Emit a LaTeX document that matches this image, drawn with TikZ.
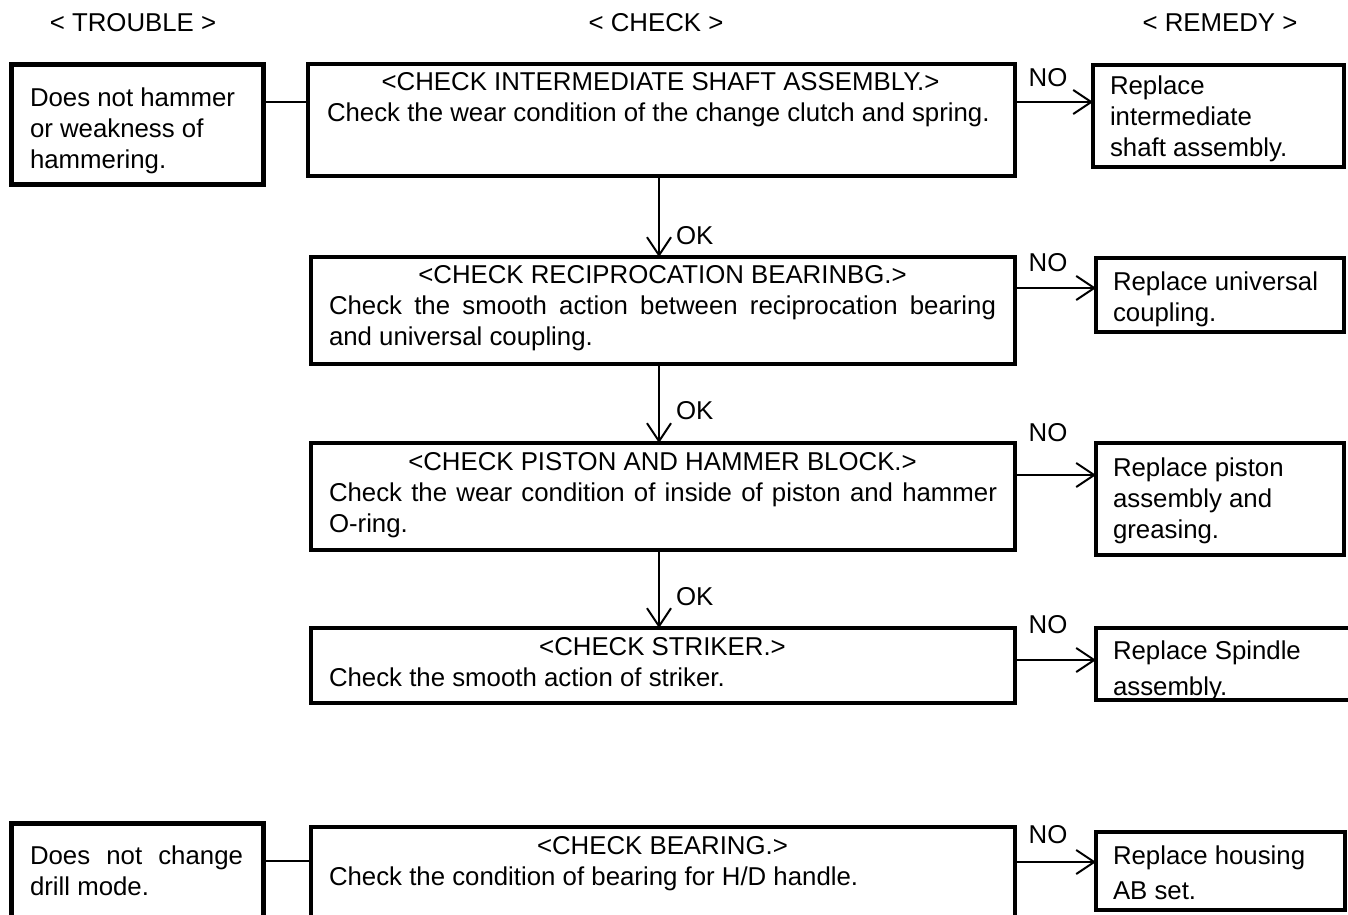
\documentclass[tikz,border=0pt]{standalone}
\usepackage{fontspec}
\setmainfont{Liberation Sans}
\usetikzlibrary{arrows.meta}
\newcommand\dfs{\fontsize{25.8}{31}\selectfont}
\newcommand\normspaces{\spaceskip=0pt\xspaceskip=0pt\relax}
\begin{document}
\begin{tikzpicture}[x=1pt,y=-1pt,
  every node/.style={font=\dfs, inner sep=0pt, outer sep=0pt},
  tbox/.style={draw, line width=5pt, anchor=north west},
  cbox/.style={draw, line width=3.5pt, anchor=north west},
  rbox/.style={draw, line width=3.5pt, anchor=north west},
  txt/.style={anchor=base west, text width=#1, align=left, execute at begin node=\normspaces},
  lbl/.style={anchor=base},
  conn/.style={line width=2pt},
  arr/.style={conn, -{Straight Barb[length=18pt,width=24pt,line width=2pt]}},
]
\useasboundingbox (0,0) rectangle (1348,914);

% headers
\node[lbl] (h1) at (133,31) {< TROUBLE >};
\node[lbl] (h2) at (656,31) {< CHECK >};
\node[lbl] (h3) at (1220,31) {< REMEDY >};

% trouble boxes
\node[tbox, minimum width=252pt, minimum height=120pt] (t1) at (11,64) {};
\node[txt=230pt] (t1t) at (30,106) {Does not hammer\\or weakness of\\hammering.};
\node[tbox, minimum width=252pt, minimum height=110pt] (t2) at (11,823) {};
\node[txt=213pt] (t2t) at (30,864) {\makebox[213pt][s]{Does not change}\\drill mode.};

% check boxes
\node[cbox, minimum width=707pt, minimum height=112pt] (c1) at (308,64) {};
\node[txt=680pt] (c1t) at (327,90) {\makebox[667pt]{<CHECK INTERMEDIATE SHAFT ASSEMBLY.>}\\Check the wear condition of the change clutch and spring.};
\node[cbox, minimum width=704pt, minimum height=107pt] (c2) at (311,257) {};
\node[txt=680pt] (c2t) at (329,283) {\makebox[667pt]{<CHECK RECIPROCATION BEARINBG.>}\\\makebox[667pt][s]{Check the smooth action between reciprocation bearing}\\and universal coupling.};
\node[cbox, minimum width=704pt, minimum height=107pt] (c3) at (311,443) {};
\node[txt=680pt] (c3t) at (329,470) {\makebox[667pt]{<CHECK PISTON AND HAMMER BLOCK.>}\\\makebox[668pt][s]{Check the wear condition of inside of piston and hammer}\\O-ring.};
\node[cbox, minimum width=704pt, minimum height=75pt] (c4) at (311,628) {};
\node[txt=680pt] (c4t) at (329,655) {\makebox[667pt]{<CHECK STRIKER.>}\\Check the smooth action of striker.};
\node[cbox, minimum width=704pt, minimum height=110pt] (c5) at (311,827) {};
\node[txt=680pt] (c5t) at (329,854) {\makebox[667pt]{<CHECK BEARING.>}\\Check the condition of bearing for H/D handle.};

% remedy boxes
\node[rbox, minimum width=251pt, minimum height=102pt] (r1) at (1093,65) {};
\node[txt=230pt] (r1t) at (1110,94) {Replace\\intermediate\\shaft assembly.};
\node[rbox, minimum width=248pt, minimum height=74pt] (r2) at (1096,258) {};
\node[txt=230pt] (r2t) at (1113,290) {Replace universal\\coupling.};
\node[rbox, minimum width=248pt, minimum height=112pt] (r3) at (1096,443) {};
\node[txt=230pt] (r3t) at (1113,476) {Replace piston\\assembly and\\greasing.};
\node[rbox, minimum width=270pt, minimum height=72pt] (r4) at (1096,628) {};
\node[txt=230pt] (r4t) at (1113,659) {Replace Spindle\\[5pt]assembly.};
\node[rbox, minimum width=249pt, minimum height=78pt] (r5) at (1096,832) {};
\node[txt=230pt] (r5t) at (1113,864) {Replace housing\\[4pt]AB set.};

% trouble -> check connectors
\coordinate (a1) at ([yshift=-38pt]t1.north east);
\draw[conn] (a1) -- (a1 -| c1.west);
\coordinate (a2) at ([yshift=-38pt]t2.north east);
\draw[conn] (a2) -- (a2 -| c5.west);

% NO arrows
\coordinate (n1) at ([yshift=-38pt]c1.north east);
\draw[arr] (n1) -- (n1 -| r1.west);
\coordinate (n2) at ([yshift=-31pt]c2.north east);
\draw[arr] (n2) -- (n2 -| r2.west);
\coordinate (n3) at ([yshift=-32pt]c3.north east);
\draw[arr] (n3) -- (n3 -| r3.west);
\coordinate (n4) at ([yshift=-32pt]c4.north east);
\draw[arr] (n4) -- (n4 -| r4.west);
\coordinate (n5) at ([yshift=-35pt]c5.north east);
\draw[arr] (n5) -- (n5 -| r5.west);

\node[lbl] (no1) at (1048,86) {NO};
\node[lbl] (no2) at (1048,271) {NO};
\node[lbl] (no3) at (1048,441) {NO};
\node[lbl] (no4) at (1048,633) {NO};
\node[lbl] (no5) at (1048,843) {NO};

% OK arrows
\coordinate (v1) at ([xshift=-2.5pt]c1.south);
\draw[arr] (v1) -- (v1 |- c2.north);
\coordinate (v2) at ([xshift=-4pt]c2.south);
\draw[arr] (v2) -- (v2 |- c3.north);
\coordinate (v3) at ([xshift=-4pt]c3.south);
\draw[arr] (v3) -- (v3 |- c4.north);

\node[anchor=base west] (ok1) at (676,244) {OK};
\node[anchor=base west] (ok2) at (676,419) {OK};
\node[anchor=base west] (ok3) at (676,605) {OK};
\end{tikzpicture}
\end{document}
